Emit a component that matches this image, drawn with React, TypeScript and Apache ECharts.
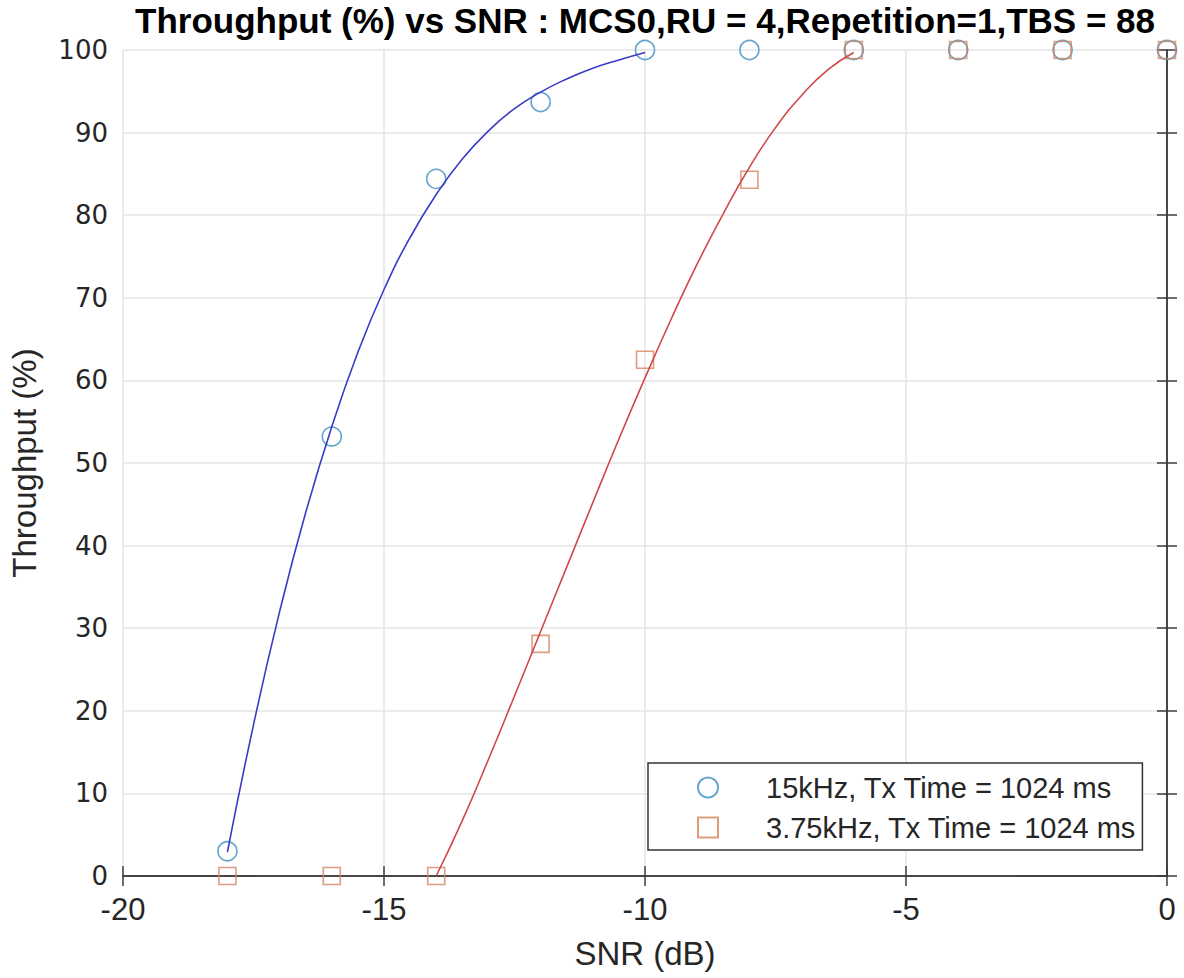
import React, { useEffect, useRef } from "react";
import * as echarts from "echarts";

const snr = [-18, -16, -14, -12, -10, -8, -6, -4, -2, 0];
const thr15k = [3, 53.2, 84.4, 93.7, 100, 100, 100, 100, 100, 100];
const thr375k = [0, 0, 0, 28.1, 62.5, 84.3, 100, 100, 100, 100];

// fitted curves, values
const fit15kX = [-18, -17.5, -17, -16.5, -16, -15.5, -15, -14.5, -14, -13.5, -13, -12.5, -12, -11.5, -11, -10.5, -10];
const fit15kY = [2.9, 18.3, 32.0, 44.0, 54.4, 63.4, 71.0, 77.3, 82.5, 86.8, 90.2, 92.9, 94.9, 96.5, 97.8, 98.8, 99.7];
const fit375kX = [-14, -13.5, -13, -12.5, -12, -11.5, -11, -10.5, -10, -9.5, -9, -8.5, -8, -7.5, -7, -6.5, -6];
const fit375kY = [0, 6.7, 14.1, 21.8, 29.6, 37.4, 45.2, 52.9, 60.3, 67.4, 74.1, 80.2, 85.8, 90.6, 94.5, 97.6, 99.7];

const xTicks = { min: -20, max: 0, interval: 5 };
const yTicks = { min: 0, max: 100, interval: 10 };

const name15k = "15kHz, Tx Time = 1024 ms";
const name375k = "3.75kHz, Tx Time = 1024 ms";
const titleText = "Throughput (%) vs SNR : MCS0,RU = 4,Repetition=1,TBS = 88";

export default function App() {
  const ref = useRef<HTMLDivElement>(null);
  useEffect(() => {
    document.body.style.margin = "0";
    const chart = echarts.init(ref.current!, null, { renderer: "svg" });
    const axisLine = { show: true, lineStyle: { color: "#3c3c3c", width: 1.5 } };
    const tick = { show: true, inside: true, length: 10, lineStyle: { color: "#3c3c3c", width: 1.5 } };
    const grid = { show: true, lineStyle: { color: "#e4e4e4", width: 1.5 } };
    const option: any = {
      animation: false,
      backgroundColor: "#ffffff",
      title: {
        text: titleText,
        left: 645,
        top: 3,
        padding: 0,
        textAlign: "center",
        textStyle: { fontFamily: "Liberation Sans", fontWeight: "bold", fontSize: 35, color: "#000" },
      },
      grid: { left: 123, right: 17, top: 50, bottom: 102 },
      legend: {
        orient: "vertical",
        left: 648,
        top: 763,
        padding: [10, 6, 8, 49],
        itemWidth: 20,
        itemHeight: 20,
        itemGap: 11,
        borderColor: "#333",
        borderWidth: 1.5,
        backgroundColor: "#fff",
        selectedMode: false,
        textStyle: {
          fontFamily: "Liberation Sans",
          fontSize: 29,
          lineHeight: 20,
          color: "#262626",
          padding: [0, 0, 0, 43],
        },
        data: [name15k, name375k],
      },
      xAxis: [
        {
          type: "value",
          position: "bottom",
          ...xTicks,
          axisLine,
          axisTick: tick,
          splitLine: grid,
          axisLabel: { margin: 18, fontFamily: "Liberation Sans", fontSize: 31, color: "#262626" },
          name: "SNR (dB)",
          nameLocation: "middle",
          nameGap: 61,
          nameTextStyle: { fontFamily: "Liberation Sans", fontSize: 33, color: "#262626" },
        },
        {
          type: "value",
          position: "top",
          ...xTicks,
          axisLine,
          axisTick: tick,
          splitLine: { show: false },
          axisLabel: { show: false },
        },
      ],
      yAxis: [
        {
          type: "value",
          position: "left",
          ...yTicks,
          axisLine,
          axisTick: tick,
          splitLine: grid,
          axisLabel: { margin: 15, fontFamily: "DejaVu Sans", fontSize: 26, color: "#262626" },
          name: "Throughput (%)",
          nameLocation: "middle",
          nameGap: 82,
          nameTextStyle: { fontFamily: "Liberation Sans", fontSize: 33, color: "#262626" },
        },
        {
          type: "value",
          position: "right",
          ...yTicks,
          axisLine,
          axisTick: tick,
          splitLine: { show: false },
          axisLabel: { show: false },
        },
      ],
      series: [
        {
          name: name15k,
          type: "scatter",
          symbol: "circle",
          symbolSize: 19,
          clip: false,
          itemStyle: { color: "rgba(0,0,0,0)", borderColor: "#3d8fbf", borderWidth: 1.6 },
          data: snr.map((x, i) => [x, thr15k[i]]),
          z: 3,
        },
        {
          name: name375k,
          type: "scatter",
          symbol: "rect",
          symbolSize: 17,
          clip: false,
          itemStyle: { color: "rgba(0,0,0,0)", borderColor: "#d4845e", borderWidth: 1.6 },
          data: snr.map((x, i) => [x, thr375k[i]]),
          z: 3,
        },
        {
          type: "line",
          smooth: true,
          showSymbol: false,
          lineStyle: { color: "#3a3ac8", width: 1.6 },
          data: fit15kX.map((x, i) => [x, fit15kY[i]]),
          z: 4,
        },
        {
          type: "line",
          smooth: true,
          showSymbol: false,
          lineStyle: { color: "#d04848", width: 1.6 },
          data: fit375kX.map((x, i) => [x, fit375kY[i]]),
          z: 4,
        },
      ],
    };
    chart.setOption(option);
    return () => chart.dispose();
  }, []);
  return <div ref={ref} style={{ width: 1184, height: 978 }} />;
}
